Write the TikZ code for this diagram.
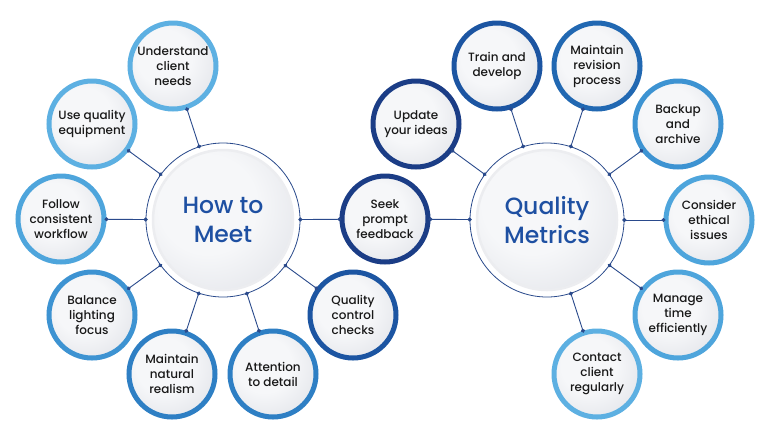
\documentclass[tikz,border=0pt]{standalone}
\usepackage{fontspec}
\setmainfont{Poppins}
\newfontfamily\popmed{Poppins Medium}
\usetikzlibrary{arrows.meta}
\definecolor{cA}{HTML}{5DB0E2}
\definecolor{cB}{HTML}{4EA5DC}
\definecolor{cC}{HTML}{3D93D2}
\definecolor{cD}{HTML}{2E7FC4}
\definecolor{cE}{HTML}{2168B2}
\definecolor{cF}{HTML}{1C55A2}
\definecolor{cG}{HTML}{1B3D86}
\definecolor{linkc}{HTML}{2A4A8C}
\definecolor{hubtxt}{HTML}{1E50A2}
\definecolor{fillout}{HTML}{CFD3DA}
\definecolor{fillmid}{HTML}{E3E5EA}
\definecolor{fillin}{HTML}{F6F7F9}
\pgfdeclareradialshading{discshade}{\pgfpoint{-6bp}{6bp}}{%
  color(0bp)=(fillin); color(16bp)=(fillin); color(34bp)=(fillmid); color(52bp)=(fillout); color(100bp)=(fillout)}
\tikzset{
  sat/.style={circle, minimum size=86pt, inner sep=0pt, line width=5pt, draw=#1,
    shading=discshade, align=center, text=black!90,
    font=\popmed\fontsize{12}{15}\selectfont},
  hub/.style={circle, minimum size=154pt, inner sep=0pt, draw=linkc, line width=0.8pt,
    fill=white, align=center, text=hubtxt,
    font=\popmed\fontsize{23.5}{29}\selectfont,
    path picture={\shade[shading=discshade, draw=white!60!fillout, line width=2.5pt]
      (path picture bounding box.center) circle (70pt);}},
  link/.style={draw=linkc, line width=0.9pt, {Circle[length=4pt]}-{Circle[length=4pt]},
    shorten <=-2pt, shorten >=-2pt}
}
\begin{document}
\begin{tikzpicture}[x=1pt,y=-1pt]
\useasboundingbox (0,0) rectangle (770,440);
\fill[white] (0,0) rectangle (770,440);
% hubs
\node[hub] (L) at (223,220) {How to\\Meet};
\node[hub] (R) at (547,220) {Quality\\Metrics};
% left satellites
\node[sat=cA] (l1) at (173,66) {Understand\\client\\needs};
\node[sat=cA] (l2) at (92,124) {Use quality\\equipment};
\node[sat=cB] (l3) at (61,219) {Follow\\consistent\\workflow};
\node[sat=cC] (l4) at (92,315) {Balance\\lighting\\focus};
\node[sat=cD] (l5) at (172,374) {Maintain\\natural\\realism};
\node[sat=cD] (l6) at (273,374) {Attention\\to detail};
\node[sat=cF] (l7) at (353,315) {Quality\\control\\checks};
\node[sat=cG] (s) at (385,219) {Seek\\prompt\\feedback};
% right satellites
\node[sat=cG] (r1) at (416,124) {Update\\your ideas};
\node[sat=cF] (r2) at (497,66) {Train and\\develop};
\node[sat=cE] (r3) at (597,66) {Maintain\\revision\\process};
\node[sat=cC] (r4) at (678,124) {Backup\\and\\archive};
\node[sat=cB] (r5) at (709,220) {Consider\\ethical\\issues};
\node[sat=cB] (r6) at (678,315) {Manage\\time\\efficiently};
\node[sat=cA] (r7) at (597,374) {Contact\\client\\regularly};
% connectors
\foreach \n in {l1,l2,l3,l4,l5,l6,l7} \draw[link] (L) -- (\n);
\foreach \n in {r1,r2,r3,r4,r5,r6,r7} \draw[link] (R) -- (\n);
\draw[link] (L) -- (s);
\draw[link] (s) -- (R);
\end{tikzpicture}
\end{document}
